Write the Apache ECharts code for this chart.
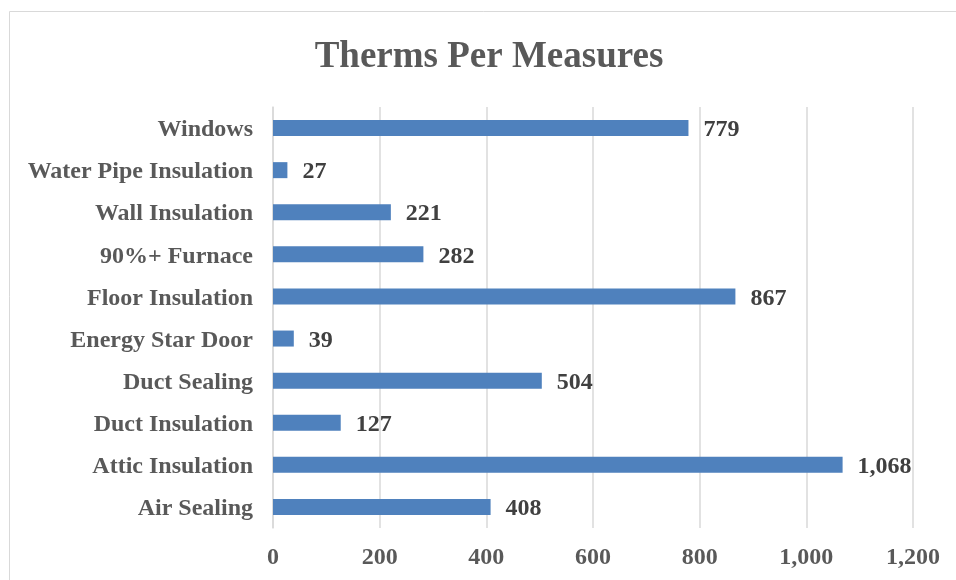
<!DOCTYPE html>
<html><head><meta charset="utf-8">
<script src="https://cdn.jsdelivr.net/npm/echarts@6/dist/echarts.min.js"></script>
<style>html,body{margin:0;padding:0;background:#fff}#c{width:956px;height:580px}</style>
</head><body><div id="c"></div>
<script>
var categories = ["Air Sealing","Attic Insulation","Duct Insulation","Duct Sealing","Energy Star Door","Floor Insulation","90%+ Furnace","Wall Insulation","Water Pipe Insulation","Windows"];
var values = [408,1068,127,504,39,867,282,221,27,779];
var xTicks = [0,200,400,600,800,1000,1200];
var chart = echarts.init(document.getElementById('c'));
var font = '"Liberation Serif","Times New Roman",serif';
chart.setOption({
  animation:false,
  graphic:[{type:'rect',shape:{x:9.5,y:11.5,width:1000,height:700},style:{fill:'none',stroke:'#d9d9d9',lineWidth:1}}],
  title:{text:'Therms Per Measures',left:484,top:34,textAlign:'center',textStyle:{fontFamily:font,fontSize:37,fontWeight:'bold',color:'#595959'}},
  grid:{left:273,right:43,top:107,bottom:52,containLabel:false},
  xAxis:{type:'value',min:xTicks[0],max:xTicks[xTicks.length-1],interval:200,
    axisLine:{show:false},axisTick:{show:false},
    splitLine:{lineStyle:{color:'#d9d9d9',width:1.5}},
    axisLabel:{fontFamily:font,fontSize:24,fontWeight:'bold',color:'#595959',margin:18,
      formatter:function(v){return v.toLocaleString('en-US');}}},
  yAxis:{type:'category',data:categories,
    axisLine:{show:true,lineStyle:{color:'#d9d9d9',width:1.5}},axisTick:{show:false},
    axisLabel:{fontFamily:font,fontSize:24,fontWeight:'bold',color:'#595959',margin:20,verticalAlign:'top',lineHeight:24,padding:[-10,0,0,0]}},
  series:[{type:'bar',data:values,barWidth:16,itemStyle:{color:'#4f81bd'},
    label:{show:true,position:'right',distance:15,fontFamily:font,fontSize:24,fontWeight:'bold',color:'#404040',offset:[0,2],
      formatter:function(p){return p.value.toLocaleString('en-US');}}}]
});
</script></body></html>
